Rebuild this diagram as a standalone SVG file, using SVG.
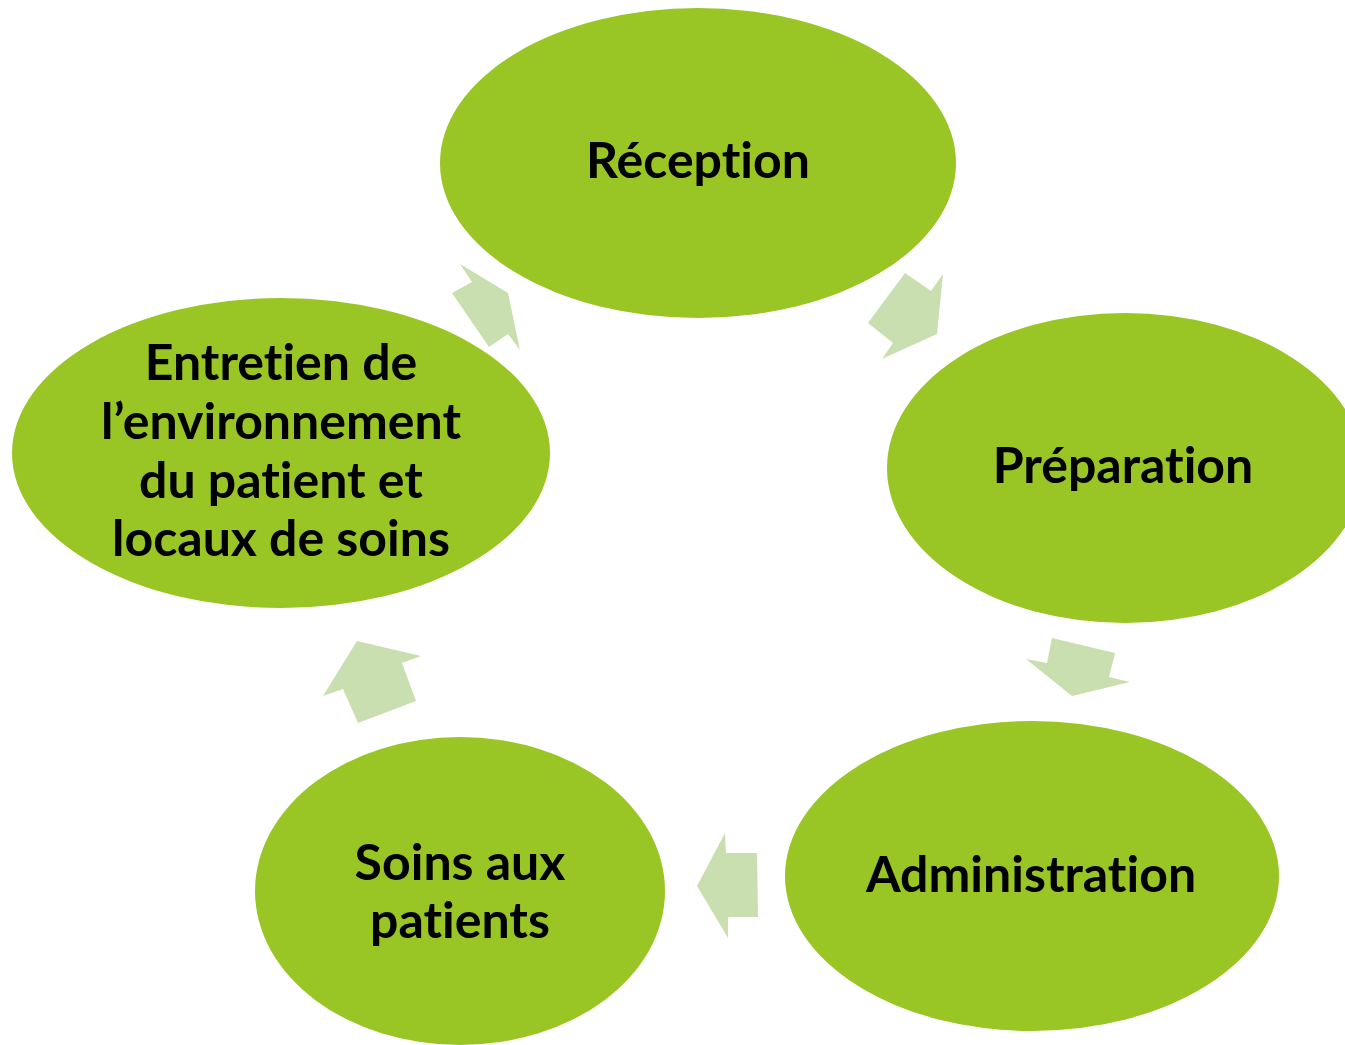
<svg xmlns="http://www.w3.org/2000/svg" width="1345" height="1045" viewBox="0 0 1345 1045">
<style>
.node ellipse{fill:#99C624;}
.node text{font-family:Lato,"Open Sans","Liberation Sans",sans-serif;font-weight:bold;font-size:50px;fill:#000;text-anchor:middle;font-variant-ligatures:none;font-feature-settings:"liga" 0;}
.arrow{fill:#C9DFAF;}
</style>
<rect width="1345" height="1045" fill="#fff"/>
<g id="connectors">
<polygon class="arrow" points="460,264 472,282 452,293 489,347 508,334 520,350 508,293"/>
<polygon class="arrow" points="905,273 931,291 943,274 937,334 882,359 893,343 868,323"/>
<polygon class="arrow" points="1052,638 1115,653 1109,677 1130,682 1072,696 1026,659 1047,663"/>
<polygon class="arrow" points="697,886 725,833 726,853 757,853 758,917 728,917 728,938"/>
<polygon class="arrow" points="357,641 421,656 402,663 416,701 358,723 343,689 323,696"/>
</g>
<g id="reception" class="node">
<ellipse cx="698" cy="163" rx="258" ry="155"/>
<text x="698" y="178">Réception</text>
</g>
<g id="preparation" class="node">
<ellipse cx="1125" cy="468" rx="238" ry="155"/>
<text x="1123" y="483">Préparation</text>
</g>
<g id="administration" class="node">
<ellipse cx="1032" cy="876" rx="247" ry="155"/>
<text x="1031" y="892">Administration</text>
</g>
<g id="soins" class="node">
<ellipse cx="460" cy="891" rx="205" ry="154"/>
<text x="460" y="880">Soins aux</text>
<text x="460" y="938">patients</text>
</g>
<g id="entretien" class="node">
<ellipse cx="281" cy="453" rx="269" ry="155"/>
<text x="281" y="380">Entretien de</text>
<text x="281" y="439">l’environnement</text>
<text x="281" y="498">du patient et</text>
<text x="281" y="556">locaux de soins</text>
</g>
</svg>
